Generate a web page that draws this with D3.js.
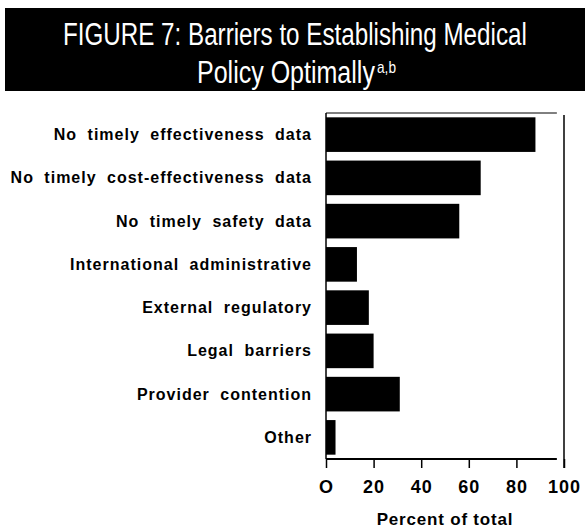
<!DOCTYPE html>
<html>
<head>
<meta charset="utf-8">
<script src="https://cdn.jsdelivr.net/npm/d3@7"></script>
<style>
  body { margin: 0; background: #fff; }
  svg { display: block; }
</style>
</head>
<body>
<script>
// data
var categories = [
    "No timely effectiveness data",
    "No timely cost-effectiveness data",
    "No timely safety data",
    "International administrative",
    "External regulatory",
    "Legal barriers",
    "Provider contention",
    "Other"
];
var percents = [88, 65, 56, 13, 18, 20, 31, 4];
var tickValues = [0, 20, 40, 60, 80, 100];
var tickLabels = ["O", "20", "40", "60", "80", "100"];

var W = 585, H = 532;
var margin = {top: 113, right: 20, bottom: 73, left: 326};
var width = 564 - margin.left,
    height = 459 - margin.top;

var svg = d3.select("body").append("svg")
    .attr("width", W)
    .attr("height", H);

// title box
svg.append("rect")
    .attr("x", 5).attr("y", 8)
    .attr("width", W - 5).attr("height", 83)
    .attr("fill", "#000");

// the original uses a condensed face; squeeze regular text horizontally
var titleFont = "'Liberation Sans', Arial, sans-serif";
function squeezed(str, left, base, targetW, size) {
    var t = svg.append("text")
        .attr("x", 0).attr("y", 0)
        .attr("fill", "#fff")
        .style("font-family", titleFont)
        .style("font-size", size + "px")
        .text(str);
    var natural = t.node().getComputedTextLength();
    t.attr("transform", "translate(" + left + "," + base + ") scale(" + (targetW / natural) + ",1)");
    return t;
}
squeezed("FIGURE 7: Barriers to Establishing Medical", 63, 45, 464, 31);
squeezed("Policy Optimally", 197, 83, 178, 31);
squeezed("a,b", 377, 73, 19, 16);

var g = svg.append("g")
    .attr("transform", "translate(" + margin.left + "," + margin.top + ")");

var x = d3.scaleLinear()
    .domain([0, 100])
    .range([0, width]);

var y = d3.scaleBand()
    .domain(categories)
    .range([0, height])
    .paddingInner(0.2)
    .paddingOuter(0.1);

var data = categories.map(function (c, i) {
    return {Name: c, Count: percents[i]};
});

g.selectAll(".bar")
    .data(data)
    .enter().append("rect")
    .attr("class", "bar")
    .attr("x", 0)
    .attr("y", function (d) { return y(d.Name); })
    .attr("width", function (d) { return x(d.Count); })
    .attr("height", y.bandwidth())
    .attr("fill", "#000");

// frame lines: top, left, right
g.append("line")
    .attr("x1", 0).attr("x2", x(97))
    .attr("y1", 0).attr("y2", 0)
    .attr("stroke", "#000").attr("stroke-width", 1);
g.append("line")
    .attr("x1", 0).attr("x2", 0)
    .attr("y1", 0).attr("y2", height)
    .attr("stroke", "#000").attr("stroke-width", 1.5);
g.append("line")
    .attr("x1", x(100)).attr("x2", x(100))
    .attr("y1", 2).attr("y2", height + 9)
    .attr("stroke", "#000").attr("stroke-width", 1.5);

// category labels
g.selectAll(".cat")
    .data(data)
    .enter().append("text")
    .attr("class", "cat")
    .attr("x", -14)
    .attr("y", function (d) { return y(d.Name) + y.bandwidth() / 2; })
    .attr("dy", "0.35em")
    .attr("text-anchor", "end")
    .style("font-family", "'Liberation Sans', Arial, sans-serif")
    .style("font-weight", "bold")
    .style("font-size", "16px")
    .style("letter-spacing", "1px")
    .style("word-spacing", "5px")
    .text(function (d) { return d.Name; });

// x axis
var xAxis = g.append("g")
    .attr("transform", "translate(0," + height + ")")
    .call(d3.axisBottom(x)
        .tickValues(tickValues)
        .tickFormat(function (d, i) { return tickLabels[i]; })
        .tickSize(9)
        .tickPadding(12));
xAxis.select(".domain")
    .attr("d", "M0,0H" + x(97))
    .attr("stroke-width", 2);
xAxis.selectAll(".tick line").attr("stroke-width", 1.5);
xAxis.selectAll(".tick text")
    .style("font-family", "'Liberation Sans', Arial, sans-serif")
    .style("font-weight", "bold")
    .style("font-size", "18px")
    .style("letter-spacing", "1px")
    .attr("fill", "#000");

svg.append("text")
    .attr("x", 445)
    .attr("y", 525)
    .attr("text-anchor", "middle")
    .style("font-family", "'Liberation Sans', Arial, sans-serif")
    .style("font-weight", "bold")
    .style("font-size", "17px")
    .style("letter-spacing", "0.8px")
    .text("Percent of total");
</script>
</body>
</html>
